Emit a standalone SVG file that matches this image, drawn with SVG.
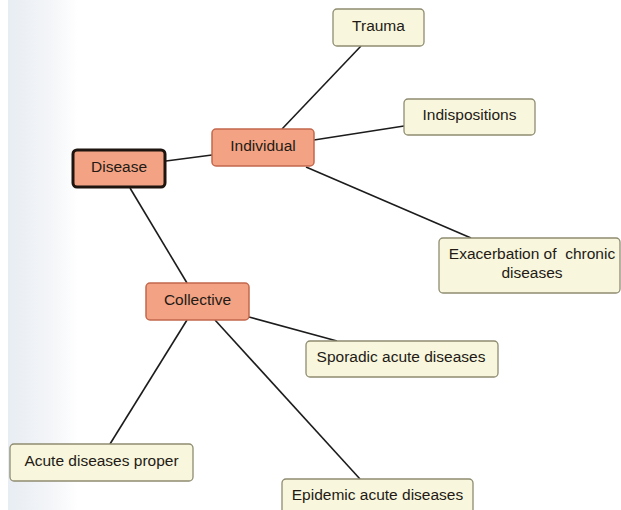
<svg xmlns="http://www.w3.org/2000/svg" width="621" height="510" viewBox="0 0 621 510">
<defs>
<linearGradient id="bg" x1="0" y1="0" x2="1" y2="0">
<stop offset="0" stop-color="#e8edf3"/>
<stop offset="0.6" stop-color="#f3f5f8"/>
<stop offset="1" stop-color="#ffffff"/>
</linearGradient>
<style>
.main{fill:#f3a383;stroke:#c4684e;stroke-width:1.5}
.root{fill:#f3a383;stroke:#1e1410;stroke-width:3}
.leaf{fill:#f8f6dc;stroke:#8e8c70;stroke-width:1.3}
.t{font-family:"Liberation Sans",Arial,sans-serif;font-size:15.5px;text-anchor:middle;fill:#231a16}
.conn line{stroke:#1c1c1c;stroke-width:1.6}
</style>
</defs>
<rect width="621" height="510" fill="#ffffff"/>
<rect x="8" y="0" width="70" height="510" fill="url(#bg)"/>
<g class="conn" id="connectors">
<line x1="166" y1="161" x2="212" y2="155"/>
<line x1="130" y1="188" x2="187" y2="283"/>
<line x1="282" y1="129" x2="361" y2="46"/>
<line x1="314" y1="140" x2="404" y2="126"/>
<line x1="306" y1="167" x2="471" y2="238"/>
<line x1="249" y1="317" x2="337" y2="341"/>
<line x1="187" y1="320" x2="110" y2="444"/>
<line x1="215" y1="320" x2="360" y2="479"/>
</g>
<g id="disease"><rect class="root" x="73" y="150" width="92" height="37" rx="4"/><text class="t" x="119" y="172">Disease</text></g>
<g id="individual"><rect class="main" x="212" y="129" width="102" height="37" rx="4"/><text class="t" x="263" y="151">Individual</text></g>
<g id="collective"><rect class="main" x="146" y="283" width="103" height="37" rx="4"/><text class="t" x="197.5" y="305">Collective</text></g>
<g id="trauma"><rect class="leaf" x="333" y="9" width="91" height="37" rx="4"/><text class="t" x="378.5" y="31">Trauma</text></g>
<g id="indispositions"><rect class="leaf" x="404" y="99" width="131" height="36" rx="4"/><text class="t" x="469.5" y="120">Indispositions</text></g>
<g id="exacerbation"><rect class="leaf" x="439" y="238" width="181" height="55" rx="4"/><text class="t" x="532" y="259" xml:space="preserve">Exacerbation of  chronic</text><text class="t" x="532" y="278">diseases</text></g>
<g id="sporadic"><rect class="leaf" x="306" y="341" width="192" height="36" rx="4"/><text class="t" x="401" y="362">Sporadic acute diseases</text></g>
<g id="acute-proper"><rect class="leaf" x="10" y="444" width="183" height="37" rx="4"/><text class="t" x="101.5" y="466">Acute diseases proper</text></g>
<g id="epidemic"><rect class="leaf" x="282" y="479" width="191" height="38" rx="4"/><text class="t" x="377.5" y="500">Epidemic acute diseases</text></g>
</svg>
